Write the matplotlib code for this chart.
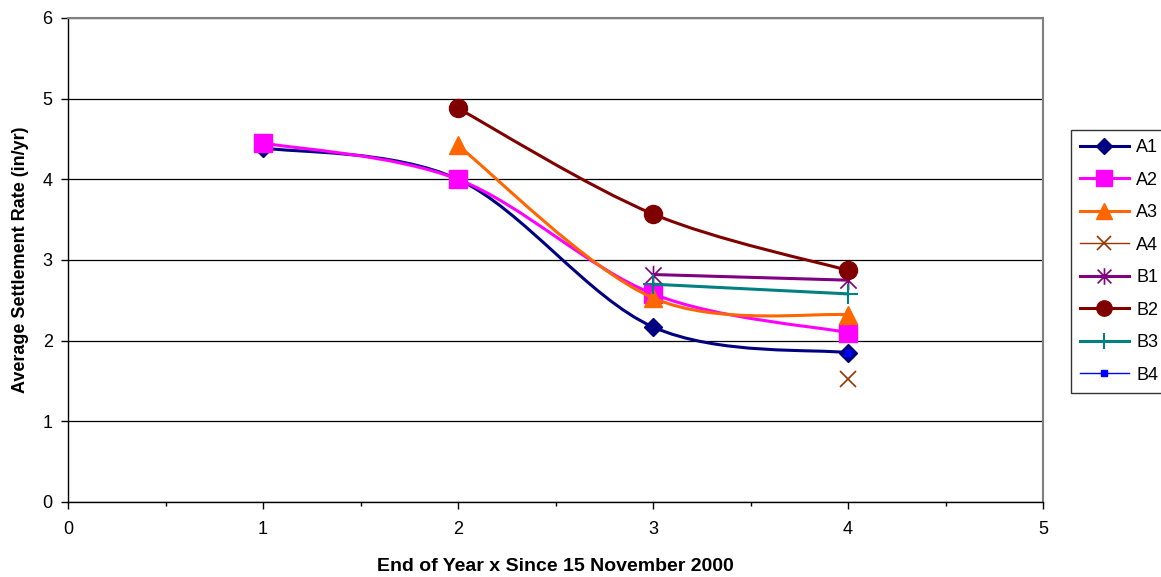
import matplotlib.pyplot as plt
from matplotlib.path import Path
from matplotlib.patches import PathPatch
from matplotlib.lines import Line2D
from matplotlib.ticker import MultipleLocator

plt.rcParams['font.family'] = ['Liberation Sans', 'DejaVu Sans']

# 数据
series_names = ['A1', 'A2', 'A3', 'A4', 'B1', 'B2', 'B3', 'B4']
a1_x = [1, 2, 3, 4]
a1_y = [4.39, 4.00, 2.17, 1.85]
a2_x = [1, 2, 3, 4]
a2_y = [4.45, 4.00, 2.58, 2.10]
a3_x = [2, 3, 4]
a3_y = [4.42, 2.53, 2.32]
a4_x = [4]
a4_y = [1.52]
b1_x = [3, 4]
b1_y = [2.82, 2.75]
b2_x = [2, 3, 4]
b2_y = [4.88, 3.57, 2.87]
b3_x = [3, 4]
b3_y = [2.70, 2.58]
b4_x = [4]
b4_y = [1.85]

# 星形标记 (x 加竖线)
star_marker = Path([(-1, -1), (1, 1), (-1, 1), (1, -1), (0, -1.2), (0, 1.2)],
                   [Path.MOVETO, Path.LINETO, Path.MOVETO, Path.LINETO,
                    Path.MOVETO, Path.LINETO])

styles = {
    'A1': dict(color='#000080', marker='D', ms=9, lw=2.2),
    'A2': dict(color='#FF00FF', marker='s', ms=13, lw=2.2),
    'A3': dict(color='#FF6600', marker='^', ms=13, lw=2.2),
    'A4': dict(color='#993300', marker='x', ms=12, lw=1.0, mew=1.2),
    'B1': dict(color='#800080', marker=star_marker, ms=14, lw=2.2, mew=1.2),
    'B2': dict(color='#800000', marker='o', ms=13, lw=2.2),
    'B3': dict(color='#008080', marker='+', ms=14, lw=2.2, mew=1.5),
    'B4': dict(color='#0000FF', marker='s', ms=5, lw=1.0),
}

data = {
    'A1': (a1_x, a1_y), 'A2': (a2_x, a2_y), 'A3': (a3_x, a3_y),
    'A4': (a4_x, a4_y), 'B1': (b1_x, b1_y), 'B2': (b2_x, b2_y),
    'B3': (b3_x, b3_y), 'B4': (b4_x, b4_y),
}


def smooth_path(xs, ys):
    # 类似 Excel 平滑线: Catmull-Rom 转 Bezier
    pts = list(zip(xs, ys))
    verts = [pts[0]]
    codes = [Path.MOVETO]
    n = len(pts)
    for i in range(n - 1):
        p0 = pts[i - 1] if i > 0 else pts[i]
        p1 = pts[i]
        p2 = pts[i + 1]
        p3 = pts[i + 2] if i + 2 < n else pts[i + 1]
        c1 = (p1[0] + (p2[0] - p0[0]) / 6, p1[1] + (p2[1] - p0[1]) / 6)
        c2 = (p2[0] - (p3[0] - p1[0]) / 6, p2[1] - (p3[1] - p1[1]) / 6)
        verts += [c1, c2, p2]
        codes += [Path.CURVE4] * 3
    return Path(verts, codes)


fig = plt.figure(figsize=(11.61, 5.77), dpi=100)
ax = fig.add_axes([68 / 1161, 75 / 577, 975 / 1161, 484 / 577])

handles = []
for i, name in enumerate(series_names):
    xs, ys = data[name]
    st = styles[name]
    z = 2 + i
    if len(xs) > 1:
        ax.add_patch(PathPatch(smooth_path(xs, ys), facecolor='none',
                               edgecolor=st['color'], lw=st['lw'], zorder=z,
                               capstyle='round', joinstyle='round'))
    ax.plot(xs, ys, linestyle='none', marker=st['marker'], ms=st['ms'],
            color=st['color'], mec=st['color'], mew=st.get('mew', 1.0), zorder=z + 0.5)
    handles.append(Line2D([], [], color=st['color'], lw=st['lw'], marker=st['marker'],
                          ms=st['ms'] * 0.85, mew=st.get('mew', 1.0), label=name))

# 坐标轴
ax.set_xlim(0, 5)
ax.set_ylim(0, 6)
ax.xaxis.set_major_locator(MultipleLocator(1))
ax.xaxis.set_minor_locator(MultipleLocator(0.5))
ax.yaxis.set_major_locator(MultipleLocator(1))
ax.tick_params(axis='both', which='major', direction='out', length=5, width=1,
               labelsize=13, colors='black')
ax.tick_params(axis='x', which='major', pad=9)
ax.tick_params(axis='y', which='major', pad=6)
ax.tick_params(axis='x', which='minor', direction='out', length=3, width=1)
ax.grid(True, axis='y', color='black', lw=0.9)
ax.set_axisbelow(True)
for side in ['top', 'right']:
    ax.spines[side].set_color('#808080')
    ax.spines[side].set_linewidth(1.5)
for side in ['left', 'bottom']:
    ax.spines[side].set_color('black')
    ax.spines[side].set_linewidth(1.0)

ax.set_xlabel('End of Year x Since 15 November 2000', fontsize=14,
              fontweight='bold', labelpad=14)
ax.set_ylabel('Average Settlement Rate (in/yr)', fontsize=13,
              fontweight='bold', labelpad=10)

leg = fig.legend(handles=handles, loc='upper left',
                 bbox_to_anchor=(1071 / 1161, 1 - 130 / 577), borderaxespad=0,
                 fontsize=13, handlelength=2.7, labelspacing=0.86,
                 frameon=True, fancybox=False, borderpad=0.5, handletextpad=0.4)
leg.get_frame().set_edgecolor('black')
leg.get_frame().set_linewidth(1.0)

plt.savefig('out.png', dpi=100)
